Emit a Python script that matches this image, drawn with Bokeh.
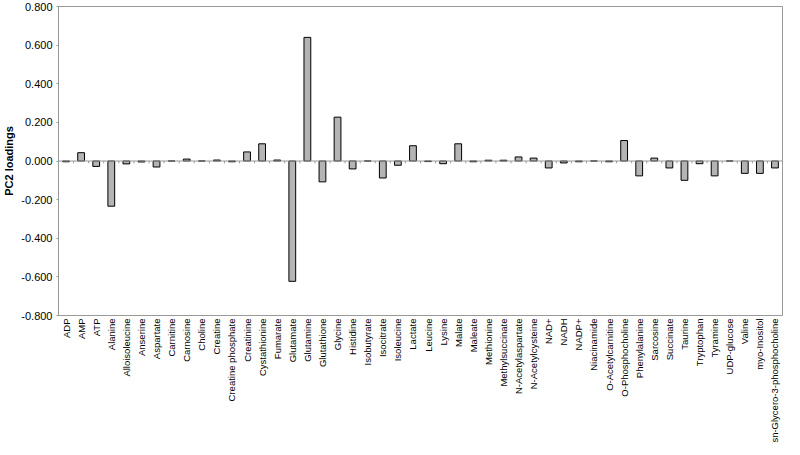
import math
from bokeh.plotting import figure
from bokeh.models import ColumnDataSource, FactorRange, Range1d, NumeralTickFormatter, FixedTicker, Span
from bokeh.transform import dodge
from bokeh.embed import file_html
from bokeh.resources import INLINE

metabolites = [
    "ADP", "AMP", "ATP", "Alanine", "Alloisoleucine", "Anserine", "Aspartate",
    "Carnitine", "Carnosine", "Choline", "Creatine", "Creatine phosphate",
    "Creatinine", "Cystathionine", "Fumarate", "Glutamate", "Glutamine",
    "Glutathione", "Glycine", "Histidine", "Isobutyrate", "Isocitrate",
    "Isoleucine", "Lactate", "Leucine", "Lysine", "Malate", "Maleate",
    "Methionine", "Methylsuccinate", "N-Acetylaspartate", "N-Acetylcysteine",
    "NAD+", "NADH", "NADP+", "Niacinamide", "O-Acetylcarnitine",
    "O-Phosphocholine", "Phenylalanine", "Sarcosine", "Succinate", "Taurine",
    "Tryptophan", "Tyramine", "UDP-glucose", "Valine", "myo-Inositol",
    "sn-Glycero-3-phosphocholine",
]
pc2_loadings = [
    -0.004, 0.043, -0.028, -0.234, -0.015, -0.005, -0.031,
    0.000, 0.010, 0.000, 0.005, -0.004,
    0.047, 0.089, 0.005, -0.623, 0.640,
    -0.108, 0.227, -0.041, 0.000, -0.088,
    -0.022, 0.079, -0.003, -0.014, 0.089, -0.004,
    0.004, 0.004, 0.021, 0.015,
    -0.036, -0.010, -0.004, 0.000, -0.004,
    0.106, -0.077, 0.015, -0.036, -0.100,
    -0.014, -0.077, 0.000, -0.064, -0.064,
    -0.036,
]
y_ticks = [-0.8, -0.6, -0.4, -0.2, 0.0, 0.2, 0.4, 0.6, 0.8]

src = ColumnDataSource(dict(cat=metabolites, val=pc2_loadings))

p = figure(
    width=784, height=445,
    x_range=FactorRange(*metabolites, range_padding=0),
    y_range=Range1d(-0.8, 0.8),
    output_backend="svg", toolbar_location=None,
    min_border_top=6, min_border_right=2, min_border_left=4, min_border_bottom=0,
)
p.background_fill_color = "white"
p.border_fill_color = "white"
p.outline_line_color = "#999999"
p.outline_line_width = 1
p.xgrid.visible = False
p.ygrid.visible = False

# zero line
p.add_layout(Span(location=0, dimension="width", line_color="#999999", line_width=1))

# small category boundary ticks on the zero line
tick_src = ColumnDataSource(dict(cat=metabolites, y0=[0.0] * len(metabolites), y1=[-0.012] * len(metabolites)))
p.segment(x0=dodge("cat", -0.5, range=p.x_range), x1=dodge("cat", -0.5, range=p.x_range),
          y0="y0", y1="y1", source=tick_src, line_color="#999999", line_width=1)

p.vbar(x="cat", top="val", bottom=0, width=0.45, source=src,
       fill_color="#b4b4b4", line_color="black", line_width=1)

font = "Liberation Sans"
p.yaxis.ticker = FixedTicker(ticks=y_ticks)
p.yaxis.formatter = NumeralTickFormatter(format="0.000")
p.yaxis.axis_label = "PC2 loadings"
p.yaxis.axis_label_text_font = font
p.yaxis.axis_label_text_font_style = "bold"
p.yaxis.axis_label_text_font_size = "11px"
p.yaxis.axis_label_text_color = "black"
p.yaxis.axis_label_standoff = 3
p.yaxis.major_label_text_font = font
p.yaxis.major_label_text_font_size = "11px"
p.yaxis.major_label_text_color = "black"
p.yaxis.axis_line_color = "#999999"
p.yaxis.major_tick_line_color = "#999999"
p.yaxis.major_tick_out = 2
p.yaxis.major_tick_in = 0
p.yaxis.minor_tick_line_color = None
p.yaxis.major_label_standoff = 4

p.xaxis.axis_label = None
p.xaxis.major_label_orientation = math.pi / 2
p.xaxis.major_label_text_font = font
p.xaxis.major_label_text_font_size = "9.5px"
p.xaxis.major_label_text_color = "black"
p.xaxis.axis_line_color = None
p.xaxis.major_tick_line_color = None
p.xaxis.minor_tick_line_color = None
p.xaxis.major_tick_out = 0
p.xaxis.major_tick_in = 0
p.xaxis.major_label_standoff = 3

open("out.html", "w").write(file_html(p, INLINE))
